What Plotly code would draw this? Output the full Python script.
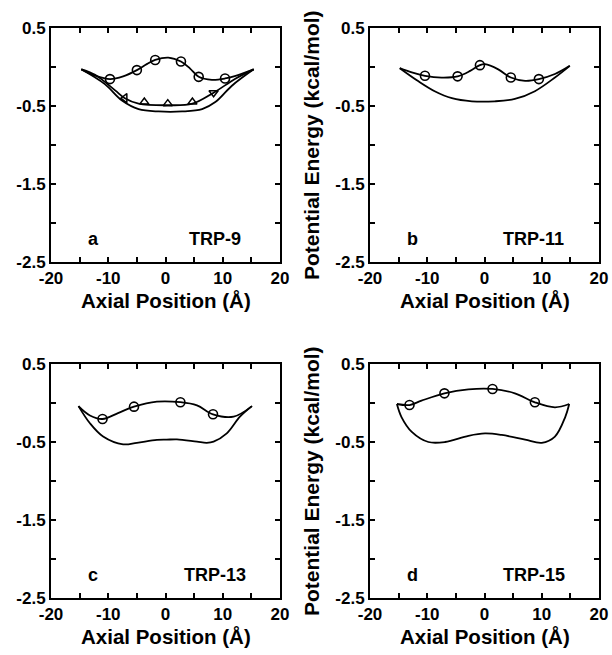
import plotly.graph_objects as go

# ---------------- data ----------------
# Panel a : TRP-9
a_top_x = [-14.7, -12.3, -9.7, -7.4, -5.0, -3.2, -1.8, 0.5, 2.7, 4.3, 5.8, 8.1, 10.4, 12.8, 15.4]
a_top_y = [-0.03, -0.11, -0.155, -0.12, -0.04, 0.04, 0.09, 0.12, 0.07, -0.02, -0.126, -0.165, -0.147, -0.10, -0.03]
a_circ_x = [-9.7, -5.0, -1.8, 2.7, 5.8, 10.4]
a_circ_y = [-0.155, -0.04, 0.09, 0.07, -0.126, -0.147]
a_tri_line_x = [-14.7, -12.3, -8.8, -7.1, -4.7, 0.4, 4.7, 8.4, 12.2, 15.4]
a_tri_line_y = [-0.03, -0.10, -0.30, -0.40, -0.47, -0.49, -0.47, -0.33, -0.15, -0.03]
a_tri_x = [-7.1, -3.7, 0.4, 4.7, 8.4]
a_tri_y = [-0.40, -0.45, -0.47, -0.45, -0.33]
a_tri_sym = ["triangle-left-open", "triangle-up-open", "triangle-up-open",
             "triangle-up-open", "triangle-down-open"]
a_low_x = [-14.7, -10.6, -7.6, -4.7, -1.2, 2.9, 6.4, 8.7, 11.6, 15.4]
a_low_y = [-0.03, -0.22, -0.43, -0.54, -0.57, -0.57, -0.54, -0.45, -0.24, -0.03]

# Panel b : TRP-11
b_top_x = [-14.8, -12.7, -10.4, -7.5, -4.7, -2.5, -0.8, 0.1, 2.4, 4.6, 7.1, 9.5, 12.3, 14.9]
b_top_y = [-0.015, -0.07, -0.113, -0.135, -0.12, -0.05, 0.024, 0.036, -0.03, -0.135, -0.177, -0.155, -0.09, 0.015]
b_circ_x = [-10.4, -4.7, -0.8, 4.6, 9.5]
b_circ_y = [-0.113, -0.12, 0.024, -0.135, -0.155]
b_low_x = [-14.8, -11.6, -8.7, -5.7, -2.2, 1.8, 5.3, 8.8, 12.3, 14.9]
b_low_y = [-0.015, -0.18, -0.31, -0.40, -0.44, -0.44, -0.41, -0.31, -0.135, 0.015]

# Panel c : TRP-13
c_top_x = [-15.2, -13.2, -11.0, -8.3, -5.5, -1.5, 2.6, 5.5, 8.3, 11.9, 15.1]
c_top_y = [-0.04, -0.16, -0.205, -0.13, -0.047, 0.017, 0.01, -0.03, -0.145, -0.175, -0.04]
c_circ_x = [-11.0, -5.5, 2.6, 8.3]
c_circ_y = [-0.205, -0.047, 0.01, -0.145]
c_low_x = [-15.2, -13.2, -10.9, -7.4, -5.0, -1.5, 0.2, 2.0, 5.5, 7.2, 8.4, 10.7, 13.0, 15.1]
c_low_y = [-0.04, -0.26, -0.43, -0.53, -0.51, -0.474, -0.47, -0.466, -0.496, -0.51, -0.496, -0.39, -0.176, -0.04]

# Panel d : TRP-15
d_top_x = [-15.3, -13.1, -11.0, -7.0, -2.8, 1.4, 5.3, 8.8, 12.3, 14.8]
d_top_y = [-0.013, -0.026, 0.03, 0.124, 0.175, 0.18, 0.124, 0.009, -0.055, -0.013]
d_circ_x = [-13.1, -7.0, 1.4, 8.8]
d_circ_y = [-0.026, 0.124, 0.18, 0.009]
d_low_x = [-15.3, -14.5, -12.7, -9.8, -6.9, -2.8, 0.1, 3.0, 7.1, 10.0, 12.3, 14.1, 14.8]
d_low_y = [-0.013, -0.18, -0.37, -0.50, -0.50, -0.42, -0.39, -0.41, -0.47, -0.51, -0.43, -0.18, -0.013]

panel_letters = ["a", "b", "c", "d"]
panel_names = ["TRP-9", "TRP-11", "TRP-13", "TRP-15"]
x_tick_vals = [-20, -15, -10, -5, 0, 5, 10, 15, 20]
x_tick_text = ["-20", "", "-10", "", "0", "", "10", "", "20"]
y_tick_vals = [-2.5, -2.0, -1.5, -1.0, -0.5, 0.0, 0.5]
y_tick_text = ["-2.5", "", "-1.5", "", "-0.5", "", "0.5"]
x_title = "Axial Position (Å)"
y_title = "Potential Energy (kcal/mol)"

# ---------------- figure ----------------
W, H = 612, 655
FONT = "Liberation Sans"
fig = go.Figure()

LINE = dict(color="black", width=1.8, shape="spline", smoothing=1.0)
CIRC = dict(symbol="circle-open", size=9, color="black", line=dict(width=1.6, color="black"))


def add_panel(idx, curves, circ, tri=None):
    xa = "x" if idx == 1 else f"x{idx}"
    ya = "y" if idx == 1 else f"y{idx}"
    for cx, cy in curves:
        fig.add_trace(go.Scatter(x=cx, y=cy, mode="lines", line=LINE,
                                 xaxis=xa, yaxis=ya, showlegend=False, hoverinfo="skip"))
    fig.add_trace(go.Scatter(x=circ[0], y=circ[1], mode="markers", marker=CIRC,
                             xaxis=xa, yaxis=ya, showlegend=False))
    if tri is not None:
        fig.add_trace(go.Scatter(x=tri[0], y=tri[1], mode="markers",
                                 marker=dict(symbol=tri[2], size=8, color="black",
                                             line=dict(width=1.5, color="black")),
                                 xaxis=xa, yaxis=ya, showlegend=False))


add_panel(1, [(a_top_x, a_top_y), (a_tri_line_x, a_tri_line_y), (a_low_x, a_low_y)],
          (a_circ_x, a_circ_y), (a_tri_x, a_tri_y, a_tri_sym))
add_panel(2, [(b_top_x, b_top_y), (b_low_x, b_low_y)], (b_circ_x, b_circ_y))
add_panel(3, [(c_top_x, c_top_y), (c_low_x, c_low_y)], (c_circ_x, c_circ_y))
add_panel(4, [(d_top_x, d_top_y), (d_low_x, d_low_y)], (d_circ_x, d_circ_y))

# pixel layout of plot boxes
cols = [(51, 280), (370, 599)]
rows = [(28, 262), (364, 598)]

tickfont = dict(family=FONT, size=17, color="black", weight="bold")
common = dict(showline=True, linecolor="black", linewidth=2, mirror="ticks",
              ticks="inside", ticklen=5, tickwidth=1.5, tickcolor="black",
              showgrid=False, zeroline=False, tickfont=tickfont, automargin=False)

layout = dict(width=W, height=H, margin=dict(l=0, r=0, t=0, b=0, autoexpand=False),
              paper_bgcolor="white", plot_bgcolor="white",
              font=dict(family=FONT, color="black"))
annotations = []
for i in range(4):
    r, c = divmod(i, 2)
    x0, x1 = cols[c]
    y0, y1 = rows[r]
    suf = "" if i == 0 else str(i + 1)
    layout["xaxis" + suf] = dict(domain=[x0 / W, x1 / W], range=[-20, 20],
                                 tickvals=x_tick_vals, ticktext=x_tick_text,
                                 anchor="y" + suf, **common)
    layout["yaxis" + suf] = dict(domain=[1 - y1 / H, 1 - y0 / H], range=[-2.5, 0.5],
                                 tickvals=y_tick_vals, ticktext=y_tick_text,
                                 anchor="x" + suf, **common)
    # panel letter and name
    annotations.append(dict(x=-12.6, y=-2.2, xref="x" + suf, yref="y" + suf,
                            text=panel_letters[i], showarrow=False,
                            xanchor="center", yanchor="middle",
                            font=dict(family=FONT, size=18, color="black", weight="bold")))
    annotations.append(dict(x=8.6, y=-2.2, xref="x" + suf, yref="y" + suf,
                            text=panel_names[i], showarrow=False,
                            xanchor="center", yanchor="middle",
                            font=dict(family=FONT, size=18, color="black", weight="bold")))
    # x title
    annotations.append(dict(x=(x0 + x1) / 2 / W, y=1 - (y1 + 38) / H, xref="paper", yref="paper",
                            text=x_title, showarrow=False, xanchor="center", yanchor="middle",
                            font=dict(family=FONT, size=20.5, color="black", weight="bold")))
    if c == 1:
        annotations.append(dict(x=311 / W, y=1 - (y0 + y1) / 2 / H, xref="paper", yref="paper",
                                text=y_title, showarrow=False, textangle=-90,
                                xanchor="center", yanchor="middle",
                                font=dict(family=FONT, size=21, color="black", weight="bold")))

layout["annotations"] = annotations
fig.update_layout(**layout)
fig.write_html("out.html", config={"displayModeBar": False},
               post_script="document.body.style.margin='0';document.body.style.overflow='hidden';")
